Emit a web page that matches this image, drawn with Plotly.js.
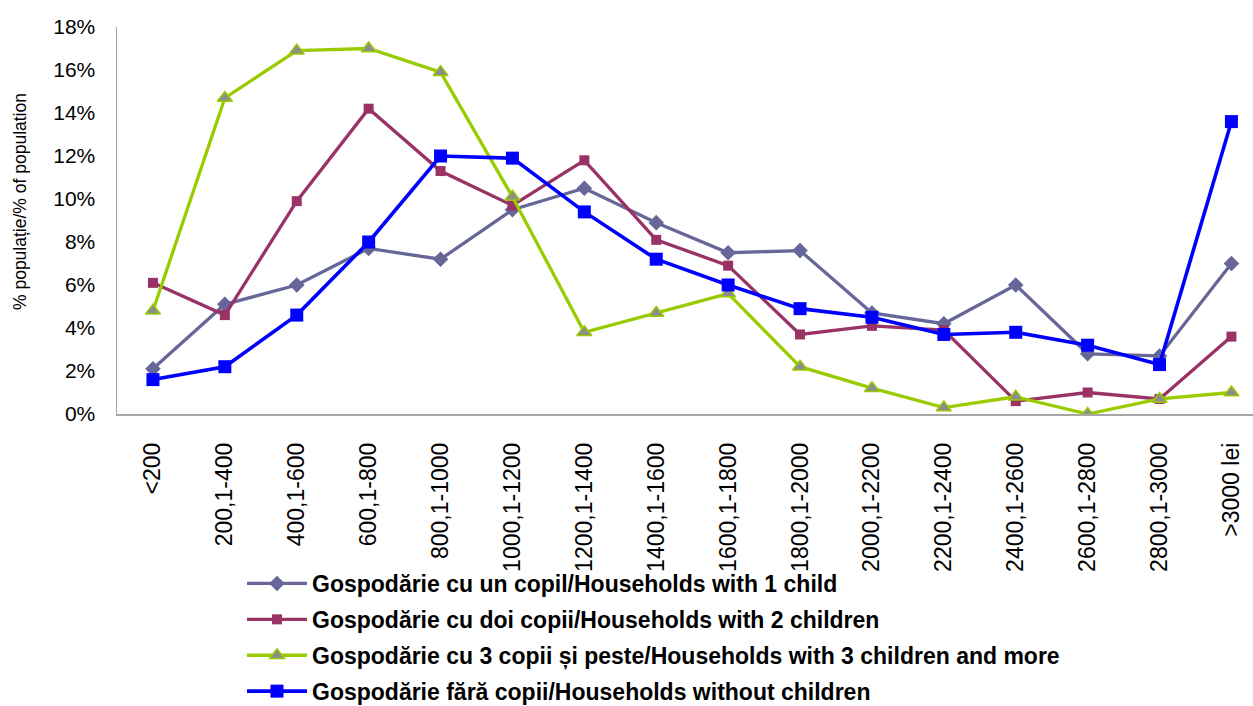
<!DOCTYPE html>
<html>
<head>
<meta charset="utf-8">
<script src="https://cdn.plot.ly/plotly-3.0.1.min.js"></script>
<style>html,body{margin:0;padding:0;background:#fff;}#chart{width:1253px;height:706px;}</style>
</head>
<body>
<div id="chart"></div>
<script>
const categories = ["<200","200,1-400","400,1-600","600,1-800","800,1-1000","1000,1-1200","1200,1-1400","1400,1-1600","1600,1-1800","1800,1-2000","2000,1-2200","2200,1-2400","2400,1-2600","2600,1-2800","2800,1-3000",">3000 lei"];
const oneChild   = [2.1, 5.1, 6.0, 7.7, 7.2, 9.5, 10.5, 8.9, 7.5, 7.6, 4.7, 4.2, 6.0, 2.8, 2.7, 7.0];
const twoChildren = [6.1, 4.6, 9.9, 14.2, 11.3, 9.7, 11.8, 8.1, 6.9, 3.7, 4.1, 3.9, 0.6, 1.0, 0.7, 3.6];
const threePlus  = [4.8, 14.7, 16.9, 17.0, 15.9, 10.1, 3.8, 4.7, 5.6, 2.2, 1.2, 0.3, 0.8, 0.0, 0.7, 1.0];
const noChildren = [1.6, 2.2, 4.6, 8.0, 12.0, 11.9, 9.4, 7.2, 6.0, 4.9, 4.5, 3.7, 3.8, 3.2, 2.3, 13.6];
const seriesNames = [
  "Gospodărie cu un copil/Households with 1 child",
  "Gospodărie cu doi copii/Households with 2 children",
  "Gospodărie cu 3 copii și peste/Households with 3 children and more",
  "Gospodărie fără copii/Households without children"
];
const yTitle = "% populație/% of population";

const W = 1253, H = 706;
const L = 117, T = 27, B = 292, R = 0;
const pw = W - L - R, ph = H - T - B;

const traces = [
  {x: categories, y: oneChild, name: seriesNames[0], legendgroup: "a",
   mode: "lines+markers", line: {color: "#666699", width: 3.3},
   marker: {symbol: "diamond", size: 12, color: "#666699"}},
  {x: categories, y: twoChildren, name: seriesNames[1], legendgroup: "b",
   mode: "lines+markers", line: {color: "#993366", width: 3.3},
   marker: {symbol: "square", size: 10, color: "#993366"}},
  {x: categories, y: threePlus, name: seriesNames[2], legendgroup: "c",
   mode: "lines+markers", line: {color: "#99CC00", width: 3.3},
   marker: {symbol: "triangle-up", size: 13, color: "#8C8C8C", line: {color: "#99CC00", width: 1.5}}},
  {x: categories, y: noChildren, name: seriesNames[3], legendgroup: "d",
   mode: "lines+markers", line: {color: "#0000FF", width: 3.6},
   marker: {symbol: "square", size: 13, color: "#0000FF"}}
];

const layout = {
  width: W, height: H,
  margin: {l: L, r: R, t: T, b: B, pad: 0, autoexpand: false},
  paper_bgcolor: "#fff", plot_bgcolor: "#fff",
  font: {family: "Liberation Sans, Arial, sans-serif", color: "#000"},
  showlegend: true,
  xaxis: {
    type: "category", range: [-0.5, 15.3], automargin: false,
    showgrid: false, zeroline: false, showline: true, linecolor: "#A6A6A6", linewidth: 1.5,
    ticks: "", tickangle: -90, ticklabelstandoff: 18,
    tickfont: {size: 23, family: "Liberation Sans, Arial, sans-serif", color: "#000"}
  },
  yaxis: {
    range: [0, 18], dtick: 2, ticksuffix: "%", automargin: false,
    showgrid: false, zeroline: false, showline: true, linecolor: "#A6A6A6", linewidth: 1.5,
    ticks: "", ticklabelstandoff: 16,
    tickfont: {size: 21, family: "Liberation Sans, Arial, sans-serif", color: "#000"}
  },
  legend: {
    orientation: "v", x: (242 - L) / pw, xanchor: "left", y: (414 - 562) / ph, yanchor: "top",
    font: {size: 23, family: "Liberation Sans, Arial, sans-serif", color: "#000", weight: "bold"},
    bgcolor: "rgba(0,0,0,0)", borderwidth: 0, itemwidth: 60, tracegroupgap: 3,
    traceorder: "grouped"
  },
  annotations: [{
    text: yTitle, textangle: -90, showarrow: false,
    xref: "paper", yref: "paper", x: (20 - L) / pw, y: (414 - 202) / ph,
    xanchor: "center", yanchor: "middle",
    font: {size: 17.5, family: "Liberation Sans, Arial, sans-serif", color: "#000"}
  }]
};

Plotly.newPlot("chart", traces, layout, {displayModeBar: false, staticPlot: true});
</script>
</body>
</html>
